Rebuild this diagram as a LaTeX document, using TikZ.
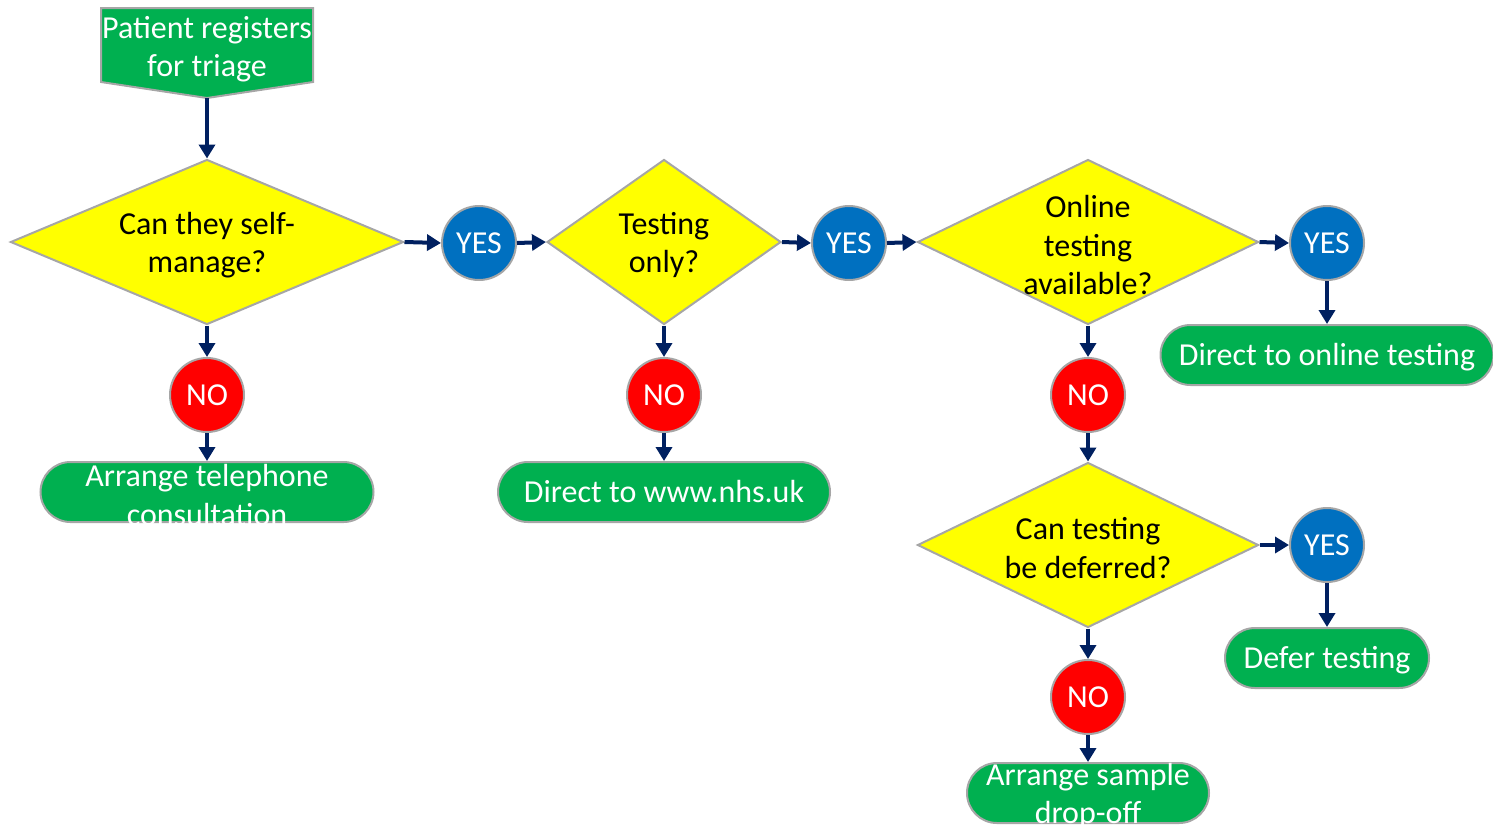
\documentclass[tikz,border=0pt]{standalone}
\usepackage{fontspec}
\setmainfont{Carlito}
\usetikzlibrary{arrows.meta,shapes.geometric,shapes.misc}

\definecolor{termgreen}{HTML}{00B050}
\definecolor{askyellow}{HTML}{FFFF00}
\definecolor{yesblue}{HTML}{0070C0}
\definecolor{nored}{HTML}{FF0000}
\definecolor{edgegray}{HTML}{A6A6A6}
\definecolor{flownavy}{HTML}{002060}

\begin{document}
\begin{tikzpicture}[x=0.5pt, y=-0.5pt,
  every node/.style={font=\fontsize{16}{19.3}\selectfont},
  decision/.style={diamond, draw=edgegray, line width=1pt, fill=askyellow, inner sep=0pt, minimum width=#1, minimum height=82.5pt},
  answer/.style={circle, draw=edgegray, line width=1pt, text=white, minimum size=37pt, inner sep=0pt},
  yesnode/.style={answer, fill=yesblue},
  nonode/.style={answer, fill=nored},
  terminal/.style={rounded rectangle, draw=edgegray, line width=1pt, fill=termgreen, text=white, inner sep=0pt, text height=13pt, text depth=3pt, minimum width=#1, minimum height=30pt},
  asktext/.style={align=center, yshift=-1.5pt},
  termtext/.style={align=center, text=white, yshift=-1.5pt},
  arrow/.style={-{Triangle[length=7pt, width=8pt]}, draw=flownavy, line width=2pt}
]
\useasboundingbox (0,0) rectangle (1493,826);

% Start
\draw[draw=edgegray, line width=1pt, fill=termgreen] (101,8) -- (313,8) -- (313,82) -- (207,98) -- (101,82) -- cycle;
\node[align=center, text=white] (start) at (207,49) {Patient registers\\for triage};
\coordinate (starttip) at (207,98);

% Decisions
\node[decision=196.5pt, label={[asktext]center:Can they self-\\manage?}] (selfmanage) at (207,242) {};
\node[decision=117pt, label={[asktext]center:Testing\\only?}] (testonly) at (664,242) {};
\node[decision=170.5pt, label={[asktext]center:Online\\testing\\available?}] (online) at (1088,242) {};
\node[decision=170.5pt, label={[asktext]center:Can testing\\be deferred?}] (defer) at (1088,545) {};

% Answers
\node[yesnode] (yes1) at (479,243) {YES};
\node[yesnode] (yes2) at (849,243) {YES};
\node[yesnode] (yes3) at (1327,243) {YES};
\node[yesnode] (yes4) at (1327,545) {YES};
\node[nonode] (no1) at (207,395) {NO};
\node[nonode] (no2) at (664,395) {NO};
\node[nonode] (no3) at (1088,395) {NO};
\node[nonode] (no4) at (1088,697) {NO};

% Outcomes
\node[terminal=166.5pt, label={[termtext]center:Arrange telephone\\consultation}] (phone) at (207,492) {};
\node[terminal=166pt] (nhs) at (664,492) {Direct to www.nhs.uk};
\node[terminal=166.5pt] (onlinetest) at (1327,355) {Direct to online testing};
\node[terminal=102pt] (defertest) at (1327,658) {Defer testing};
\node[terminal=121pt, label={[termtext]center:Arrange sample\\drop-off}] (dropoff) at (1088,793) {};

% Arrows
\draw[arrow] (starttip) -- (selfmanage.north);
\draw[arrow] (selfmanage.east) -- (yes1.west);
\draw[arrow] (yes1.east) -- (testonly.west);
\draw[arrow] (testonly.east) -- (yes2.west);
\draw[arrow] (yes2.east) -- (online.west);
\draw[arrow] (online.east) -- (yes3.west);
\draw[arrow] (yes3.south) -- (onlinetest.north);
\draw[arrow] (selfmanage.south) -- (no1.north);
\draw[arrow] (no1.south) -- (phone.north);
\draw[arrow] (testonly.south) -- (no2.north);
\draw[arrow] (no2.south) -- (nhs.north);
\draw[arrow] (online.south) -- (no3.north);
\draw[arrow] (no3.south) -- (defer.north);
\draw[arrow] (defer.east) -- (yes4.west);
\draw[arrow] (yes4.south) -- (defertest.north);
\draw[arrow] (defer.south) -- (no4.north);
\draw[arrow] (no4.south) -- (dropoff.north);

\end{tikzpicture}
\end{document}
